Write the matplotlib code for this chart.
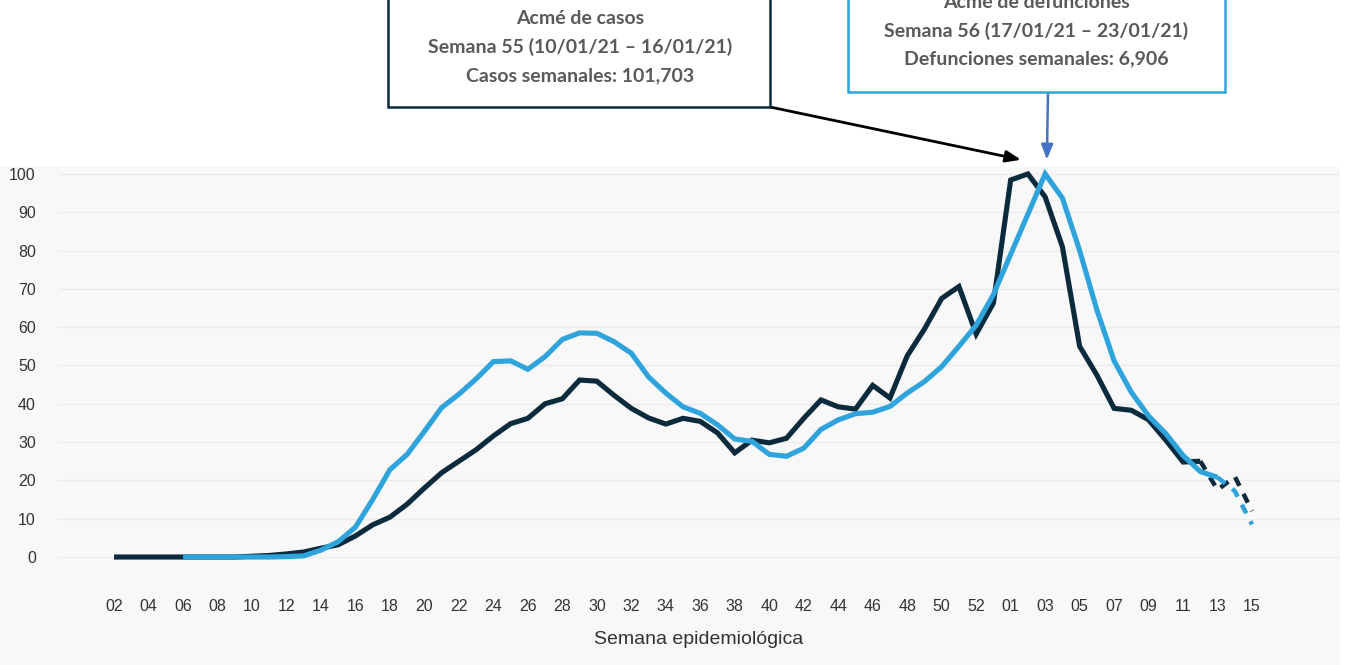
import matplotlib.pyplot as plt
from matplotlib.patches import Rectangle

plt.rcParams["font.family"] = ["Liberation Sans", "DejaVu Sans"]

# semana epidemiológica: 02..53 (2020) y 01..15 (2021)
SEMANAS = [f"{w:02d}" for w in range(2, 54)] + [f"{w:02d}" for w in range(1, 16)]

# casos semanales (% respecto al máximo)
CASOS = [
    0, 0, 0, 0, 0, 0, 0, 0, 0.2, 0.4, 0.8, 1.3, 2.3, 3.2, 5.5, 8.4, 10.4, 13.8,
    18, 22, 25, 28, 31.6, 34.8, 36.2, 40, 41.3, 46.2, 45.9, 42.2, 38.8, 36.3,
    34.7, 36.2, 35.4, 32.4, 27.2, 30.5, 29.8, 31, 36.2, 41, 39.2, 38.6, 44.8,
    41.5, 52.5, 59.5, 67.5, 70.6, 58.2, 66.3, 98.4, 100, 94, 81, 55, 47.5,
    38.8, 38.3, 35.8, 30.5, 24.8, 25, 17.5, 21, 12,
]

# defunciones semanales (% respecto al máximo), sin dato hasta la semana 06
DEFUNCIONES = [
    None, None, None, None, 0, 0, 0, 0, 0, 0, 0.1, 0.3, 1.8, 4, 7.8, 15, 22.8,
    26.8, 32.8, 39, 42.5, 46.5, 51, 51.2, 49, 52.3, 56.8, 58.5, 58.4, 56.2,
    53.2, 47, 42.8, 39.2, 37.5, 34.5, 30.8, 30.2, 26.8, 26.3, 28.4, 33.3, 35.8,
    37.4, 37.8, 39.3, 42.8, 45.8, 49.7, 55, 60.5, 68.5, 79, 89.5, 100, 93.7, 80,
    64.5, 51.2, 43, 36.8, 32.2, 26.5, 22.3, 20.8, 17.2, 8.5,
]

# last points are preliminary -> dashed
CASOS_SOLID_END = 63
DEF_SOLID_END = 64

DARK = "#0b2a3c"
BLUE = "#2ea3dc"
TEXT_GRAY = "#595959"

fig = plt.figure(figsize=(13.48, 6.65), dpi=100)
fig.patch.set_facecolor("white")
# light gray panel behind the chart
fig.add_artist(Rectangle((0, 0), 1340 / 1348, 1 - 167 / 665, transform=fig.transFigure,
                         facecolor="#f8f8f8", edgecolor="none", zorder=0))

ax = fig.add_axes([58 / 1348, 1 - 580 / 665, (1340 - 58) / 1348, (580 - 167) / 665])
ax.set_facecolor("none")

x = list(range(len(SEMANAS)))
kw = dict(lw=3.7, solid_capstyle="butt", solid_joinstyle="miter")
ax.plot(x[:CASOS_SOLID_END + 1], CASOS[:CASOS_SOLID_END + 1], color=DARK, zorder=3, **kw)
ax.plot(x[CASOS_SOLID_END:], CASOS[CASOS_SOLID_END:], color=DARK, zorder=3,
        lw=3.2, dashes=(2.2, 2.0))
dx = [i for i, v in zip(x, DEFUNCIONES) if v is not None]
dv = [v for v in DEFUNCIONES if v is not None]
split = dx.index(DEF_SOLID_END)
ax.plot(dx[:split + 1], dv[:split + 1], color=BLUE, zorder=4, **kw)
ax.plot(dx[split:], dv[split:], color=BLUE, zorder=4, lw=3.2, dashes=(2.2, 2.0))

ax.set_xlim(-3.25, 71.1)
ax.set_ylim(-6.0, 101.8)
ax.set_yticks(range(0, 101, 10))
ax.set_xticks(x[::2])
ax.set_xticklabels(SEMANAS[::2])
ax.grid(axis="y", color="#ebebeb", lw=1.0, zorder=1)
ax.set_axisbelow(True)
for s in ax.spines.values():
    s.set_visible(False)
ax.tick_params(axis="both", length=0, labelsize=11.5, labelcolor="#333333")
ax.tick_params(axis="y", pad=16)
ax.tick_params(axis="x", pad=14)
ax.set_xlabel("Semana epidemiológica", fontsize=14, color="#333333", labelpad=12)

# annotation boxes
fig.add_artist(Rectangle((388 / 1348, 1 - 107 / 665), 382 / 1348, 0.3,
                         transform=fig.transFigure, facecolor="white",
                         edgecolor=DARK, lw=1.8, zorder=5))
fig.add_artist(Rectangle((848 / 1348, 1 - 92 / 665), 377 / 1348, 0.3,
                         transform=fig.transFigure, facecolor="white",
                         edgecolor=BLUE, lw=1.8, zorder=5))

box_font = dict(family=["Lato", "DejaVu Sans"], fontsize=14, fontweight="bold",
                color=TEXT_GRAY, ha="center", va="center", zorder=6)
for txt, yy in [("Acmé de casos", 18), ("Semana 55 (10/01/21 – 16/01/21)", 47),
                ("Casos semanales: 101,703", 76)]:
    fig.text(580 / 1348, 1 - yy / 665, txt, **box_font)
for txt, yy in [("Acmé de defunciones", 2), ("Semana 56 (17/01/21 – 23/01/21)", 31),
                ("Defunciones semanales: 6,906", 59)]:
    fig.text(1036 / 1348, 1 - yy / 665, txt, **box_font)

# arrows to the peaks
ax.annotate("", xy=(52.6, 103.7), xycoords="data",
            xytext=(770 / 1348, 1 - 107 / 665), textcoords="figure fraction",
            arrowprops=dict(arrowstyle="-|>,head_length=0.9,head_width=0.35",
                            color="black", lw=2.0, shrinkA=0, shrinkB=0),
            annotation_clip=False, zorder=6)
ax.annotate("", xy=(54.1, 103.7), xycoords="data",
            xytext=(1048 / 1348, 1 - 92 / 665), textcoords="figure fraction",
            arrowprops=dict(arrowstyle="-|>,head_length=0.9,head_width=0.35",
                            color="#4472c4", lw=1.8, shrinkA=0, shrinkB=0),
            annotation_clip=False, zorder=6)

fig.savefig("out.png", dpi=100)
